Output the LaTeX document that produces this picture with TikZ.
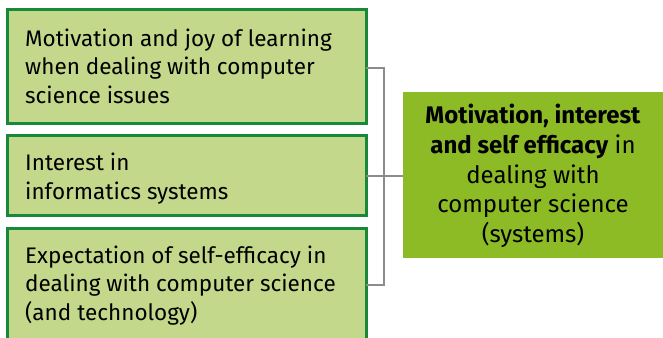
\documentclass[tikz,border=0pt]{standalone}
\usepackage{fontspec}
\setmainfont{Fira Sans}
\definecolor{boxfill}{HTML}{C3D88A}
\definecolor{boxline}{HTML}{18883A}
\definecolor{mainfill}{HTML}{8CBB26}
\definecolor{conn}{HTML}{8C8C8C}
\begin{document}
\begin{tikzpicture}[x=1pt,y=-1pt,
  factor/.style={draw=boxline, line width=3pt, fill=boxfill},
  ftext/.style={anchor=base west, align=left, inner sep=0pt, font=\fontsize{22.5}{28.5}\selectfont},
  mtext/.style={align=center, inner sep=0pt, font=\fontsize{24}{29.8}\selectfont},
  wire/.style={draw=conn, line width=1.3pt}]
\useasboundingbox (0,0) rectangle (663,337);
\clip (0,0) rectangle (663,337);
% factor boxes
\path[factor] (7,10) rectangle (366,123);
\path[factor] (7,135) rectangle (366,215);
\path[factor] (7,228) rectangle (366,345);
\node[coordinate] (b1) at (366,68) {};
\node[coordinate] (b2) at (366,176) {};
\node[coordinate] (b3) at (366,285) {};
\node[ftext] (t1) at (25,103) {Motivation and joy of learning\\when dealing with computer\\science issues};
\node[ftext] (t2) at (25,199) {Interest in\\informatics systems};
\node[ftext] (t3) at (25,320) {Expectation of self-efficacy in\\dealing with computer science\\(and technology)};
% main box
\path[fill=mainfill] (403,92) rectangle (663,258);
\node[coordinate] (m) at (403,176) {};
\node[mtext] (mt) at (533,176) {\textbf{Motivation, interest}\\\textbf{and self efficacy} in\\dealing with\\computer science\\(systems)};
% connectors
\coordinate (bus1) at (384,68);
\coordinate (bus3) at (384,285);
\coordinate (bus2) at (384,176);
\draw[wire] (b1) -- (bus1) -- (bus3) -- (b3);
\draw[wire] (b2) -- (m);
\end{tikzpicture}
\end{document}
